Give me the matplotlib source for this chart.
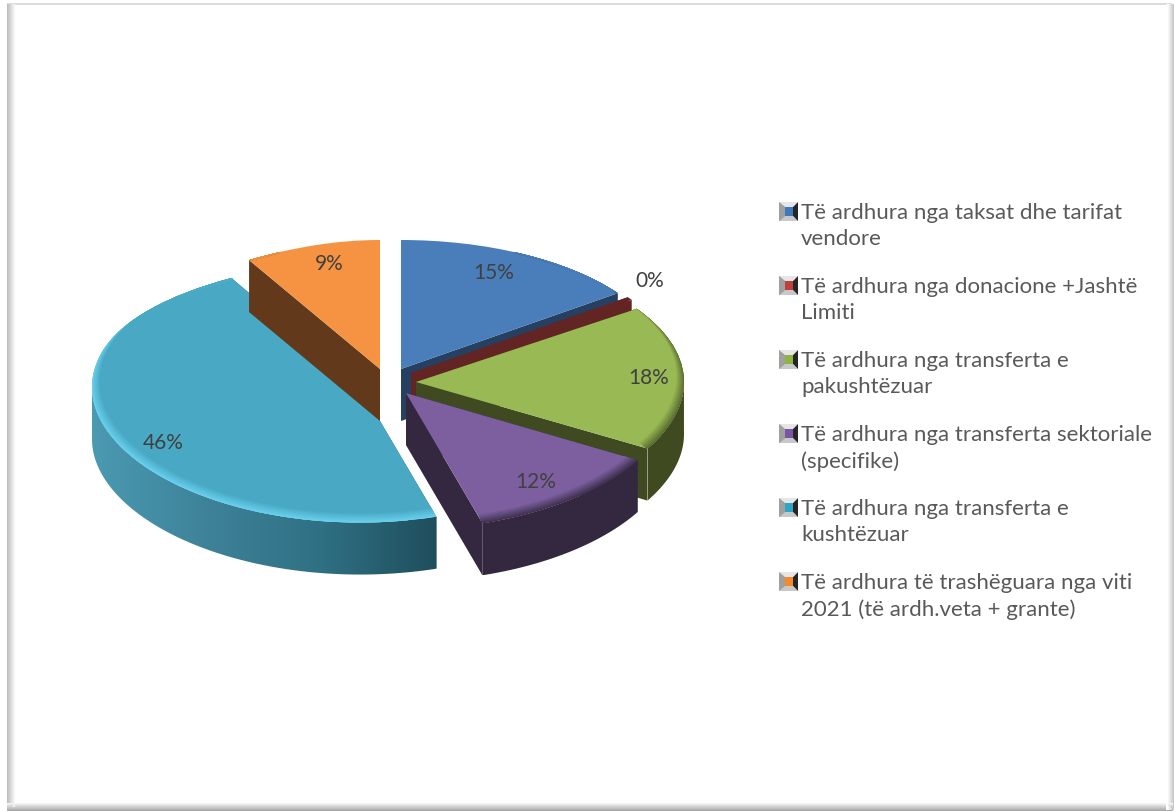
import matplotlib
matplotlib.use('Agg')
import matplotlib.pyplot as plt
import numpy as np
from matplotlib.colors import LinearSegmentedColormap, to_rgb
from matplotlib.patches import Polygon, Rectangle
from matplotlib.transforms import Transform

values = [15, 0.4, 18, 12, 45.6, 9]
labels = ['Të ardhura nga taksat dhe tarifat\nvendore',
          'Të ardhura nga donacione +Jashtë\nLimiti',
          'Të ardhura nga transferta e\npakushtëzuar',
          'Të ardhura nga transferta sektoriale\n(specifike)',
          'Të ardhura nga transferta e\nkushtëzuar',
          'Të ardhura të trashëguara nga viti\n2021 (të ardh.veta + grante)']

key_colors = ['#3F78BE', '#BE3F3C', '#8DB53F', '#7A55A5', '#2FA5C8', '#F58A2A']
top_colors = ['#4A7EBB', '#632523', '#98B954', '#7D5FA0', '#49A9C5', '#F59342']
cut_colors = ['#254061', '#632523', '#3F4A20', '#33283F', '#1F4E5A', '#62391B']
rim_colors = [['#254061'] * 2, ['#632523'] * 2, ['#3F4A20', '#3F4A20'], ['#33283F', '#33283F'],
              ['#4A9AB2', '#3E8299', '#2F7083', '#1F4E5C'], ['#62391B'] * 2]
bevel_colors = ['#3A6494', '#632523', '#4F5F2A', '#33283F', '#6FD8F5', '#C87A38']

# pixel geometry of the picture
W, H = 1174, 812
cx, cy = 395, 380  # pie origin
rx, ry = 268, 129  # ellipse radii
depth = 52 / ry
shift_px = [(6, 10), (16, 6), (21, -3), (11, -14), (-35, -8), (-15, 10)]  # x right, y up
back_narrow = [0, 0, 0, 0, 0.33, 0.124]
label_px = [(494, 273), (650, 281), (649, 378), (536, 482), (163, 443), (329, 264)]
legend_x = 801
legend_y = [212, 286, 360, 434, 508, 582]


class Warp(Transform):
    # back of the pie a little narrower, front a little deeper
    input_dims = 2
    output_dims = 2
    is_affine = False

    def __init__(self, ox, narrow):
        super().__init__()
        self.ox = ox
        self.narrow = narrow

    def transform_non_affine(self, values):
        p = np.asarray(values, dtype=float)
        u, v = p[:, 0], p[:, 1]
        s = 1 - self.narrow * np.clip((v - 0.5) / 0.5, 0, None) ** 2
        f = 1 + 0.045 * np.clip(-v, 0, None)
        return np.c_[self.ox + (u - self.ox) * s, v * f]


fig = plt.figure(figsize=(W / 100, H / 100), dpi=100)
plt.rcParams['font.family'] = ['Lato', 'DejaVu Sans']

ax = fig.add_axes([0, 0, 1, 1], zorder=2)
wedges, _ = ax.pie(values, startangle=90, counterclock=False, radius=1)
ax.set_aspect('auto')
ax.axis('off')

# frame, legend and labels live in a pixel axes on top
bg = fig.add_axes([0, 0, 1, 1], zorder=3)
bg.set_xlim(0, W)
bg.set_ylim(H, 0)
bg.axis('off')


def blend(a, b, t):
    a, b = np.array(to_rgb(a)), np.array(to_rgb(b))
    return tuple(a + (b - a) * t)


for i, w in enumerate(wedges):
    ox, oy = shift_px[i][0] / rx, shift_px[i][1] / ry
    warp2d = Warp(ox, back_narrow[i])
    warp = warp2d + ax.transData
    w.set_center((ox, oy))
    w.set_facecolor(top_colors[i])
    w.set_edgecolor('none')
    w.set_transform(warp)
    z = 10 + i * 10
    w.set_zorder(z + 5)
    t = np.radians(np.linspace(w.theta1, w.theta2, 200))
    ex, ey = ox + np.cos(t), oy + np.sin(t)

    # cut sides, extruded straight down from the warped top edge
    for k in (0, -1):
        top = warp2d.transform(np.array([(ox, oy), (ex[k], ey[k])]))
        q = np.r_[top, (top - (0, depth))[::-1]]
        ax.add_patch(Polygon(q, fc=cut_colors[i], ec='none', zorder=z))

    # outer rim, shaded from left to right
    low = np.sin(t) < 0.02
    if low.any():
        top = warp2d.transform(np.c_[ex[low], ey[low]])
        rim = np.r_[top, (top - (0, depth))[::-1]]
        poly = Polygon(rim, fc='none', ec='none', zorder=z + 1)
        ax.add_patch(poly)
        cmap = LinearSegmentedColormap.from_list('rim%d' % i, rim_colors[i])
        im = ax.imshow(np.linspace(0, 1, 256)[None, :], cmap=cmap, aspect='auto', zorder=z + 1,
                       extent=(rim[:, 0].min(), rim[:, 0].max(), rim[:, 1].min(), rim[:, 1].max()))
        im.set_clip_path(poly)

    # soft bevel on the edge of the top face
    arc = np.sin(t) < 0.9
    if arc.any() and i != 1:
        for b in range(12):
            s = 1 - b * 0.003
            bx = ox + np.cos(t[arc]) * s
            by = oy + np.sin(t[arc]) * s + b * 0.5 / ry
            ln, = ax.plot(bx, by, color=blend(bevel_colors[i], top_colors[i], (b + 1) / 12), lw=1.8,
                          zorder=z + 6, transform=warp)
            ln.set_clip_path(w)

ax.set_xlim(-cx / rx, (W - cx) / rx)
ax.set_ylim((cy - H) / ry, cy / ry)

for i, v in enumerate(values):
    bg.text(label_px[i][0], label_px[i][1], '%.0f%%' % v, color='#404040', fontsize=15,
            ha='center', va='center')

# legend
for i, lab in enumerate(labels):
    y = legend_y[i]
    bg.text(legend_x, y - 9, lab, color='#595959', fontsize=16, ha='left', va='top', linespacing=1.4)
    x0, s = 779, 19
    y0 = y - 9
    bg.add_patch(Rectangle((x0, y0), s, s, fc=key_colors[i], ec='none'))
    bg.add_patch(Polygon([(x0, y0), (x0 + 6, y0 + 5), (x0 + 6, y0 + s - 5), (x0, y0 + s)], fc='#A0A0A0', ec='none'))
    bg.add_patch(Polygon([(x0 + s, y0), (x0 + s - 5, y0 + 5), (x0 + s - 5, y0 + s - 5), (x0 + s, y0 + s)], fc='#262626', ec='none'))
    bg.add_patch(Polygon([(x0, y0), (x0 + s, y0), (x0 + s - 5, y0 + 5), (x0 + 6, y0 + 5)], fc='#E6E6E6', ec='none'))
    bg.add_patch(Polygon([(x0, y0 + s), (x0 + s, y0 + s), (x0 + s - 5, y0 + s - 5), (x0 + 6, y0 + s - 5)], fc='#C8C8C8', ec='none'))

# frame
bg.add_patch(Rectangle((7, 4), 1165, 2, fc='#DDDDDD', ec='none'))
for k in range(8):
    bg.add_patch(Rectangle((7 + k, 5), 1, 803, fc=blend('#BEBEBE', '#FFFFFF', k / 8), ec='none'))
    bg.add_patch(Rectangle((7, 811 - k), 1166, 1, fc=blend('#A8A8A8', '#FFFFFF', k / 8), ec='none'))
    bg.add_patch(Rectangle((1173 - k, 5), 1, 806, fc=blend('#C8C8C8', '#FFFFFF', k / 6 if k < 6 else 1), ec='none'))

fig.savefig('out.png', dpi=100)
